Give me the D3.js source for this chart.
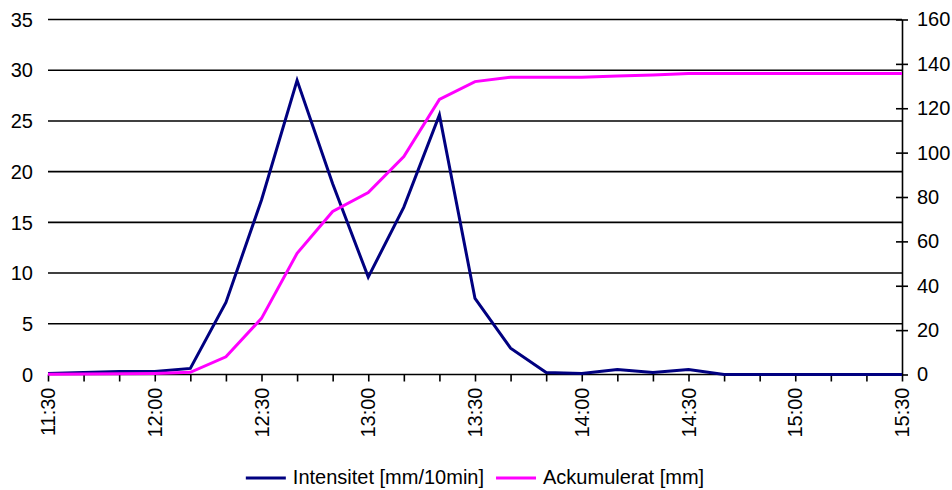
<!DOCTYPE html>
<html>
<head>
<meta charset="utf-8">
<script src="https://cdn.jsdelivr.net/npm/d3@7"></script>
<style>
  body { margin: 0; background: #fff; }
  svg { font-family: "Liberation Sans", Arial, sans-serif; }
</style>
</head>
<body>
<div id="chart"></div>
<script>
// 10 minute readings
var times = ["11:30","11:40","11:50","12:00","12:10","12:20","12:30","12:40","12:50",
             "13:00","13:10","13:20","13:30","13:40","13:50","14:00","14:10","14:20",
             "14:30","14:40","14:50","15:00","15:10","15:20","15:30"];
var intensitet = [0.1, 0.2, 0.3, 0.3, 0.6, 7.1, 17.2, 29.0, 18.8, 9.6, 16.5, 25.6, 7.5,
                  2.6, 0.2, 0.1, 0.5, 0.2, 0.5, 0, 0, 0, 0, 0, 0];
var ackumulerat = [0.1, 0.2, 0.3, 0.5, 1.0, 8.0, 25.3, 54.6, 73.5, 82.0, 98.2, 124.0, 132.0,
                   134.0, 134.0, 134.0, 134.5, 135.0, 135.7, 135.7, 135.7, 135.7, 135.7, 135.7, 135.7];
var xTickLabels = ["11:30","12:00","12:30","13:00","13:30","14:00","14:30","15:00","15:30"];
var leftTicks = [0, 5, 10, 15, 20, 25, 30, 35];
var rightTicks = [0, 20, 40, 60, 80, 100, 120, 140, 160];
var seriesNames = ["Intensitet [mm/10min]", "Ackumulerat [mm]"];
var seriesColors = ["#000080", "#ff00ff"];

var W = 952, H = 490;
var margin = {top: 19.5, right: 50, bottom: 115.5, left: 48},
    width = W - margin.left - margin.right,
    height = H - margin.top - margin.bottom;

var parse = d3.timeParse("%H:%M");

var svg = d3.select("#chart")
    .append("svg")
    .attr("width", W)
    .attr("height", H);

var g = svg.append("g")
    .attr("transform", "translate(" + margin.left + "," + margin.top + ")");

var x = d3.scaleTime()
    .domain([parse(times[0]), parse(times[times.length - 1])])
    .range([0, width]);
var yL = d3.scaleLinear().domain([0, 35]).range([height, 0]);
var yR = d3.scaleLinear().domain([0, 160]).range([height, 0]);

// gridlines (left scale)
g.append("g")
    .selectAll("line")
    .data(leftTicks)
    .enter()
    .append("line")
    .attr("x1", 0)
    .attr("x2", width)
    .attr("y1", function(d) { return yL(d); })
    .attr("y2", function(d) { return yL(d); })
    .style("stroke", "#000")
    .style("stroke-width", 1.6);

// left labels
g.append("g")
    .selectAll("text")
    .data(leftTicks)
    .enter()
    .append("text")
    .attr("x", -15)
    .attr("y", function(d) { return yL(d); })
    .attr("dy", "0.36em")
    .attr("text-anchor", "end")
    .style("font-size", "20px")
    .text(function(d) { return d; });

// right axis
var rightAxis = g.append("g")
    .attr("transform", "translate(" + width + ",0)")
    .call(d3.axisRight(yR).tickValues(rightTicks).tickSizeInner(6).tickSizeOuter(0).tickPadding(9));
rightAxis.select(".domain").style("stroke", "#000").style("stroke-width", 1.6);
rightAxis.selectAll(".tick line")
    .attr("x1", -6)
    .style("stroke", "#000")
    .style("stroke-width", 1.6);
rightAxis.selectAll(".tick text")
    .style("font-size", "20px")
    .style("font-family", "Liberation Sans, Arial, sans-serif")
    .style("fill", "#000");

// bottom axis: a tick every 10 min, labels every 30
var xAxis = g.append("g")
    .attr("transform", "translate(0," + height + ")")
    .call(d3.axisBottom(x)
        .tickValues(times.map(parse))
        .tickSizeInner(7)
        .tickSizeOuter(0)
        .tickFormat(""));
xAxis.select(".domain").remove();
xAxis.selectAll(".tick line").style("stroke", "#000").style("stroke-width", 1.6);

g.append("g")
    .selectAll("text")
    .data(xTickLabels)
    .enter()
    .append("text")
    .attr("transform", function(d) {
        return "translate(" + x(parse(d)) + "," + (height + 13) + ") rotate(-90)";
    })
    .attr("dy", "0.36em")
    .attr("text-anchor", "end")
    .style("font-size", "20px")
    .text(function(d) { return d; });

// lines
var lineL = d3.line()
    .x(function(d, i) { return x(parse(times[i])); })
    .y(function(d) { return yL(d); });
var lineR = d3.line()
    .x(function(d, i) { return x(parse(times[i])); })
    .y(function(d) { return yR(d); });

g.append("path")
    .datum(intensitet)
    .attr("d", lineL)
    .style("fill", "none")
    .style("stroke", seriesColors[0])
    .style("stroke-width", 3)
    .style("stroke-linejoin", "miter");

g.append("path")
    .datum(ackumulerat)
    .attr("d", lineR)
    .style("fill", "none")
    .style("stroke", seriesColors[1])
    .style("stroke-width", 3)
    .style("stroke-linejoin", "miter");

// legend
var legend = svg.append("g");
var lx = 0;
seriesNames.forEach(function(name, i) {
    var item = legend.append("g").attr("transform", "translate(" + lx + ",0)");
    item.append("line")
        .attr("x1", 0).attr("x2", 40)
        .attr("y1", 0).attr("y2", 0)
        .style("stroke", seriesColors[i])
        .style("stroke-width", 3);
    var t = item.append("text")
        .attr("x", 47)
        .attr("dy", "0.3em")
        .style("font-size", "20px")
        .text(name);
    lx += 47 + t.node().getComputedTextLength() + 12;
});
lx -= 12;
legend.attr("transform", "translate(" + (475 - lx / 2) + ",478)");
</script>
</body>
</html>
